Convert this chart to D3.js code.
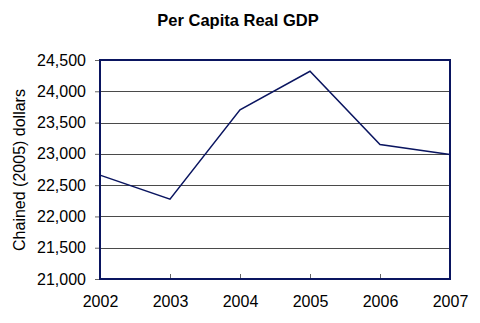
<!DOCTYPE html>
<html><head><meta charset="utf-8">
<script src="https://cdn.jsdelivr.net/npm/d3@7"></script>
<style>body{margin:0;background:#fff}svg{display:block}</style>
</head><body>
<script>
const years = [2002, 2003, 2004, 2005, 2006, 2007];
const gdp = [22660, 22275, 23705, 24320, 23150, 22990];
const yTicks = [21000, 21500, 22000, 22500, 23000, 23500, 24000, 24500];
const title = "Per Capita Real GDP";
const yLabel = "Chained (2005) dollars";

const W = 480, H = 323;
const m = {left: 100, right: 30, top: 60, bottom: 44};
const svg = d3.select("body").append("svg").attr("width", W).attr("height", H);
const x = d3.scaleLinear().domain([2002, 2007]).range([m.left, W - m.right]);
const y = d3.scaleLinear().domain([21000, 24500]).range([H - m.bottom, m.top]);
const font = "Liberation Sans, Arial, sans-serif";

svg.append("text").attr("x", 238).attr("y", 26).attr("text-anchor", "middle")
  .attr("font-family", font).attr("font-weight", "bold").attr("font-size", 16.5).attr("fill", "#000").text(title);

// gridlines
svg.append("g").selectAll("line").data(yTicks.slice(1, -1)).join("line")
  .attr("x1", m.left).attr("x2", W - m.right)
  .attr("y1", d => Math.round(y(d)) + 0.5).attr("y2", d => Math.round(y(d)) + 0.5)
  .attr("stroke", "#4a4a4a").attr("stroke-width", 1);

// y axis
const ya = svg.append("g").attr("transform", `translate(${m.left},0)`)
  .call(d3.axisLeft(y).tickValues(yTicks).tickFormat(d3.format(",")).tickSize(5).tickPadding(9));
ya.select(".domain").remove();
ya.selectAll("line").attr("stroke", "#666");
ya.selectAll("text").attr("font-family", font).attr("font-size", 16).attr("fill", "#000");

// x axis
const xa = svg.append("g").attr("transform", `translate(0,${H - m.bottom})`)
  .call(d3.axisBottom(x).tickValues(years).tickFormat(d3.format("d")).tickSize(-5).tickPadding(17));
xa.select(".domain").remove();
xa.selectAll("line").attr("stroke", "#666");
xa.selectAll("text").attr("font-family", font).attr("font-size", 16).attr("fill", "#000");

// frame
svg.append("rect").attr("x", m.left).attr("y", m.top)
  .attr("width", W - m.left - m.right).attr("height", H - m.top - m.bottom)
  .attr("fill", "none").attr("stroke", "#0a1560").attr("stroke-width", 2);

// line
svg.append("path").datum(years.map((d, i) => [d, gdp[i]]))
  .attr("d", d3.line().x(d => x(d[0])).y(d => y(d[1])))
  .attr("fill", "none").attr("stroke", "#0a1560").attr("stroke-width", 1.5);

svg.append("text").attr("transform", `translate(25,170) rotate(-90)`)
  .attr("text-anchor", "middle").attr("font-family", font).attr("font-size", 16).attr("fill", "#000").text(yLabel);
</script>
</body></html>
